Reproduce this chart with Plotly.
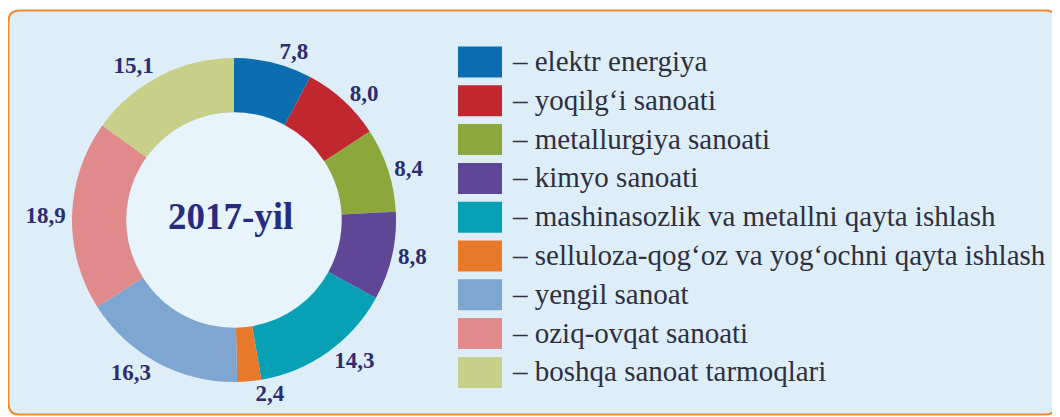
import plotly.graph_objects as go

categories = [
    "elektr energiya",
    "yoqilg‘i sanoati",
    "metallurgiya sanoati",
    "kimyo sanoati",
    "mashinasozlik va metallni qayta ishlash",
    "selluloza-qog‘oz va yog‘ochni qayta ishlash",
    "yengil sanoat",
    "oziq-ovqat sanoati",
    "boshqa sanoat tarmoqlari",
]
values = [7.8, 8.0, 8.4, 8.8, 14.3, 2.4, 16.3, 18.9, 15.1]
colors = ["#0b6db0", "#c1272f", "#8ca73b", "#5f4696", "#08a0b5",
          "#e8782a", "#7ea6d1", "#e08a8c", "#c8cf89"]
center_title = "2017-yil"

# page has an 8px body margin: figure is drawn in the remaining area
OFF = 8
W, H = 1060 - OFF, 417 - OFF
SERIF = "Liberation Serif"

def px(x):
    return (x - OFF) / W

def py(y):
    return 1 - (y - OFF) / H

cx, cy, R = 234, 220, 162

fig = go.Figure()
fig.add_trace(go.Pie(
    values=values,
    labels=categories,
    marker=dict(colors=colors, line=dict(width=0)),
    hole=0.665,
    sort=False,
    direction="clockwise",
    rotation=0,
    textposition="outside",
    texttemplate="<b>%{value:.1f}</b>",
    textfont=dict(family=SERIF, size=23, color="#2b2d6e"),
    showlegend=False,
    hoverinfo="label+value",
    domain=dict(x=[px(cx - R), px(cx + R)], y=[py(cy + R), py(cy - R)]),
))

shapes = []
# rounded background box
x0, y0, x1, y1, r = 8.5, 10.5, 1056.5, 414.5, 11
path = (f"M {px(x0)},{py(y0 + r)} Q {px(x0)},{py(y0)} {px(x0 + r)},{py(y0)} "
        f"L {px(x1 - r)},{py(y0)} Q {px(x1)},{py(y0)} {px(x1)},{py(y0 + r)} "
        f"L {px(x1)},{py(y1 - r)} Q {px(x1)},{py(y1)} {px(x1 - r)},{py(y1)} "
        f"L {px(x0 + r)},{py(y1)} Q {px(x0)},{py(y1)} {px(x0)},{py(y1 - r)} Z")
shapes.append(dict(type="path", xref="paper", yref="paper", path=path,
                   fillcolor="#ddeef9", line=dict(color="#f08a2c", width=2),
                   layer="below"))
# slightly lighter donut hole
rh = R * 0.665
shapes.append(dict(type="circle", xref="paper", yref="paper",
                   x0=px(cx - rh), x1=px(cx + rh), y0=py(cy + rh), y1=py(cy - rh),
                   fillcolor="#e7f4fb", line=dict(width=0), layer="below"))

annotations = [dict(text=f"<b>{center_title}</b>", x=px(230), y=py(cy - 4),
                    xref="paper", yref="paper", xanchor="center", yanchor="middle",
                    showarrow=False,
                    font=dict(family=SERIF, size=37, color="#272b80"))]

row0, pitch = 62, 38.8
for i, (cat, col) in enumerate(zip(categories, colors)):
    yc = row0 + i * pitch
    shapes.append(dict(type="rect", xref="paper", yref="paper",
                       x0=px(458), x1=px(502), y0=py(yc - 15.5), y1=py(yc + 15.5),
                       fillcolor=col, line=dict(width=0)))
    annotations.append(dict(text="– " + cat, x=px(510), y=py(yc - 1), xref="paper",
                            yref="paper", xanchor="left", yanchor="middle",
                            showarrow=False,
                            font=dict(family=SERIF, size=29, color="#2e2f3f")))

fig.update_layout(
    width=W, height=H,
    margin=dict(l=0, r=0, t=0, b=0),
    paper_bgcolor="white",
    plot_bgcolor="white",
    separators=", ",
    shapes=shapes,
    annotations=annotations,
)

fig.write_html("out.html")
